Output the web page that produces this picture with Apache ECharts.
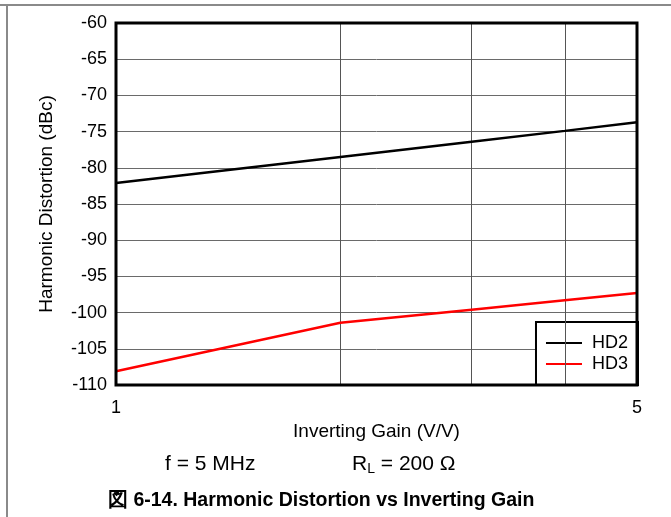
<!DOCTYPE html>
<html>
<head>
<meta charset="utf-8">
<script src="https://cdn.jsdelivr.net/npm/echarts@6/dist/echarts.min.js"></script>
<style>
html,body{margin:0;padding:0;background:#fff;}
#c{width:671px;height:517px;}
</style>
</head>
<body>
<div id="c"></div>
<script>
var gains = [1, 2, 3, 4, 5];
var hd2 = [-82.1, -78.5, -76.4, -74.9, -73.7];
var hd3 = [-108.1, -101.4, -99.6, -98.3, -97.3];
var xGridValues = [2, 3, 4];
var yTicks = [-110, -60, 5];

var FONT = '"Liberation Sans", Arial, "Noto Sans CJK JP", sans-serif';
function pairs(xs, ys){ return xs.map(function(x,i){ return [x, ys[i]]; }); }

var chart = echarts.init(document.getElementById('c'), null, {renderer:'canvas'});
chart.setOption({
  animation:false,
  backgroundColor:'#fff',
  textStyle:{fontFamily:FONT},
  grid:{left:116, top:23, width:521, height:362, show:false},
  xAxis:{
    type:'log', logBase:5, min:1, max:5,
    name:'Inverting Gain (V/V)', nameLocation:'middle', nameGap:36,
    nameTextStyle:{fontSize:19, color:'#000', fontFamily:FONT},
    axisLine:{show:false},
    axisTick:{show:false},
    axisLabel:{fontSize:18, color:'#000', margin:14, fontFamily:FONT},
    splitLine:{show:false}
  },
  yAxis:{
    type:'value', min:yTicks[0], max:yTicks[1], interval:yTicks[2],
    name:'Harmonic Distortion (dBc)', nameLocation:'middle', nameGap:60,
    nameTextStyle:{fontSize:19, color:'#000', fontFamily:FONT},
    axisLine:{show:false},
    axisTick:{show:false},
    axisLabel:{fontSize:18, color:'#000', margin:9, fontFamily:FONT},
    splitLine:{show:true, lineStyle:{color:'#6a6a6a', width:1}}
  },
  legend:{
    show:true, orient:'vertical', right:33, bottom:132,
    itemWidth:36, itemHeight:2, itemGap:3,
    icon:'rect',
    textStyle:{fontSize:18, color:'#000', fontFamily:FONT, padding:[0,0,0,5]},
    padding:[12,10,12,10],
    borderColor:'#000', borderWidth:2, backgroundColor:'#fff',
    data:['HD2','HD3']
  },
  graphic:[
    {type:'line', shape:{x1:0,y1:5,x2:671,y2:5}, style:{stroke:'#8a8a8a', lineWidth:2}, silent:true},
    {type:'line', shape:{x1:7,y1:5,x2:7,y2:517}, style:{stroke:'#8a8a8a', lineWidth:2}, silent:true},
    {type:'rect', shape:{x:116,y:23,width:521,height:362}, style:{fill:'none', stroke:'#000', lineWidth:3}, z:10, silent:true},
    {type:'text', left:165, top:454, style:{text:'f = 5 MHz', fontSize:21, fill:'#000', font:'21px '+FONT}},
    {type:'text', left:352, top:454, style:{
      rich:{n:{fontSize:21, fontFamily:FONT, fill:'#000'}, s:{fontSize:14, fontFamily:FONT, fill:'#000', padding:[10,0,0,0]}},
      text:'{n|R}{s|L}{n| = 200 Ω}'}},
    {type:'text', left:108, top:491, style:{text:'図 6-14. Harmonic Distortion vs Inverting Gain', fontSize:19.5, fontWeight:'bold', fill:'#000', font:'bold 19.5px '+FONT}}
  ],
  series:[
    {name:'HD2', type:'line', data:pairs(gains, hd2), symbol:'none', color:'#000',
     lineStyle:{color:'#000', width:2.5}, z:5,
     markLine:{silent:true, symbol:'none', label:{show:false},
       lineStyle:{color:'#555', width:1, type:'solid'},
       data:xGridValues.map(function(v){return {xAxis:v};})}},
    {name:'HD3', type:'line', data:pairs(gains, hd3), symbol:'none', color:'#ff0000',
     lineStyle:{color:'#ff0000', width:2.5}, z:5}
  ]
});
</script>
</body>
</html>
